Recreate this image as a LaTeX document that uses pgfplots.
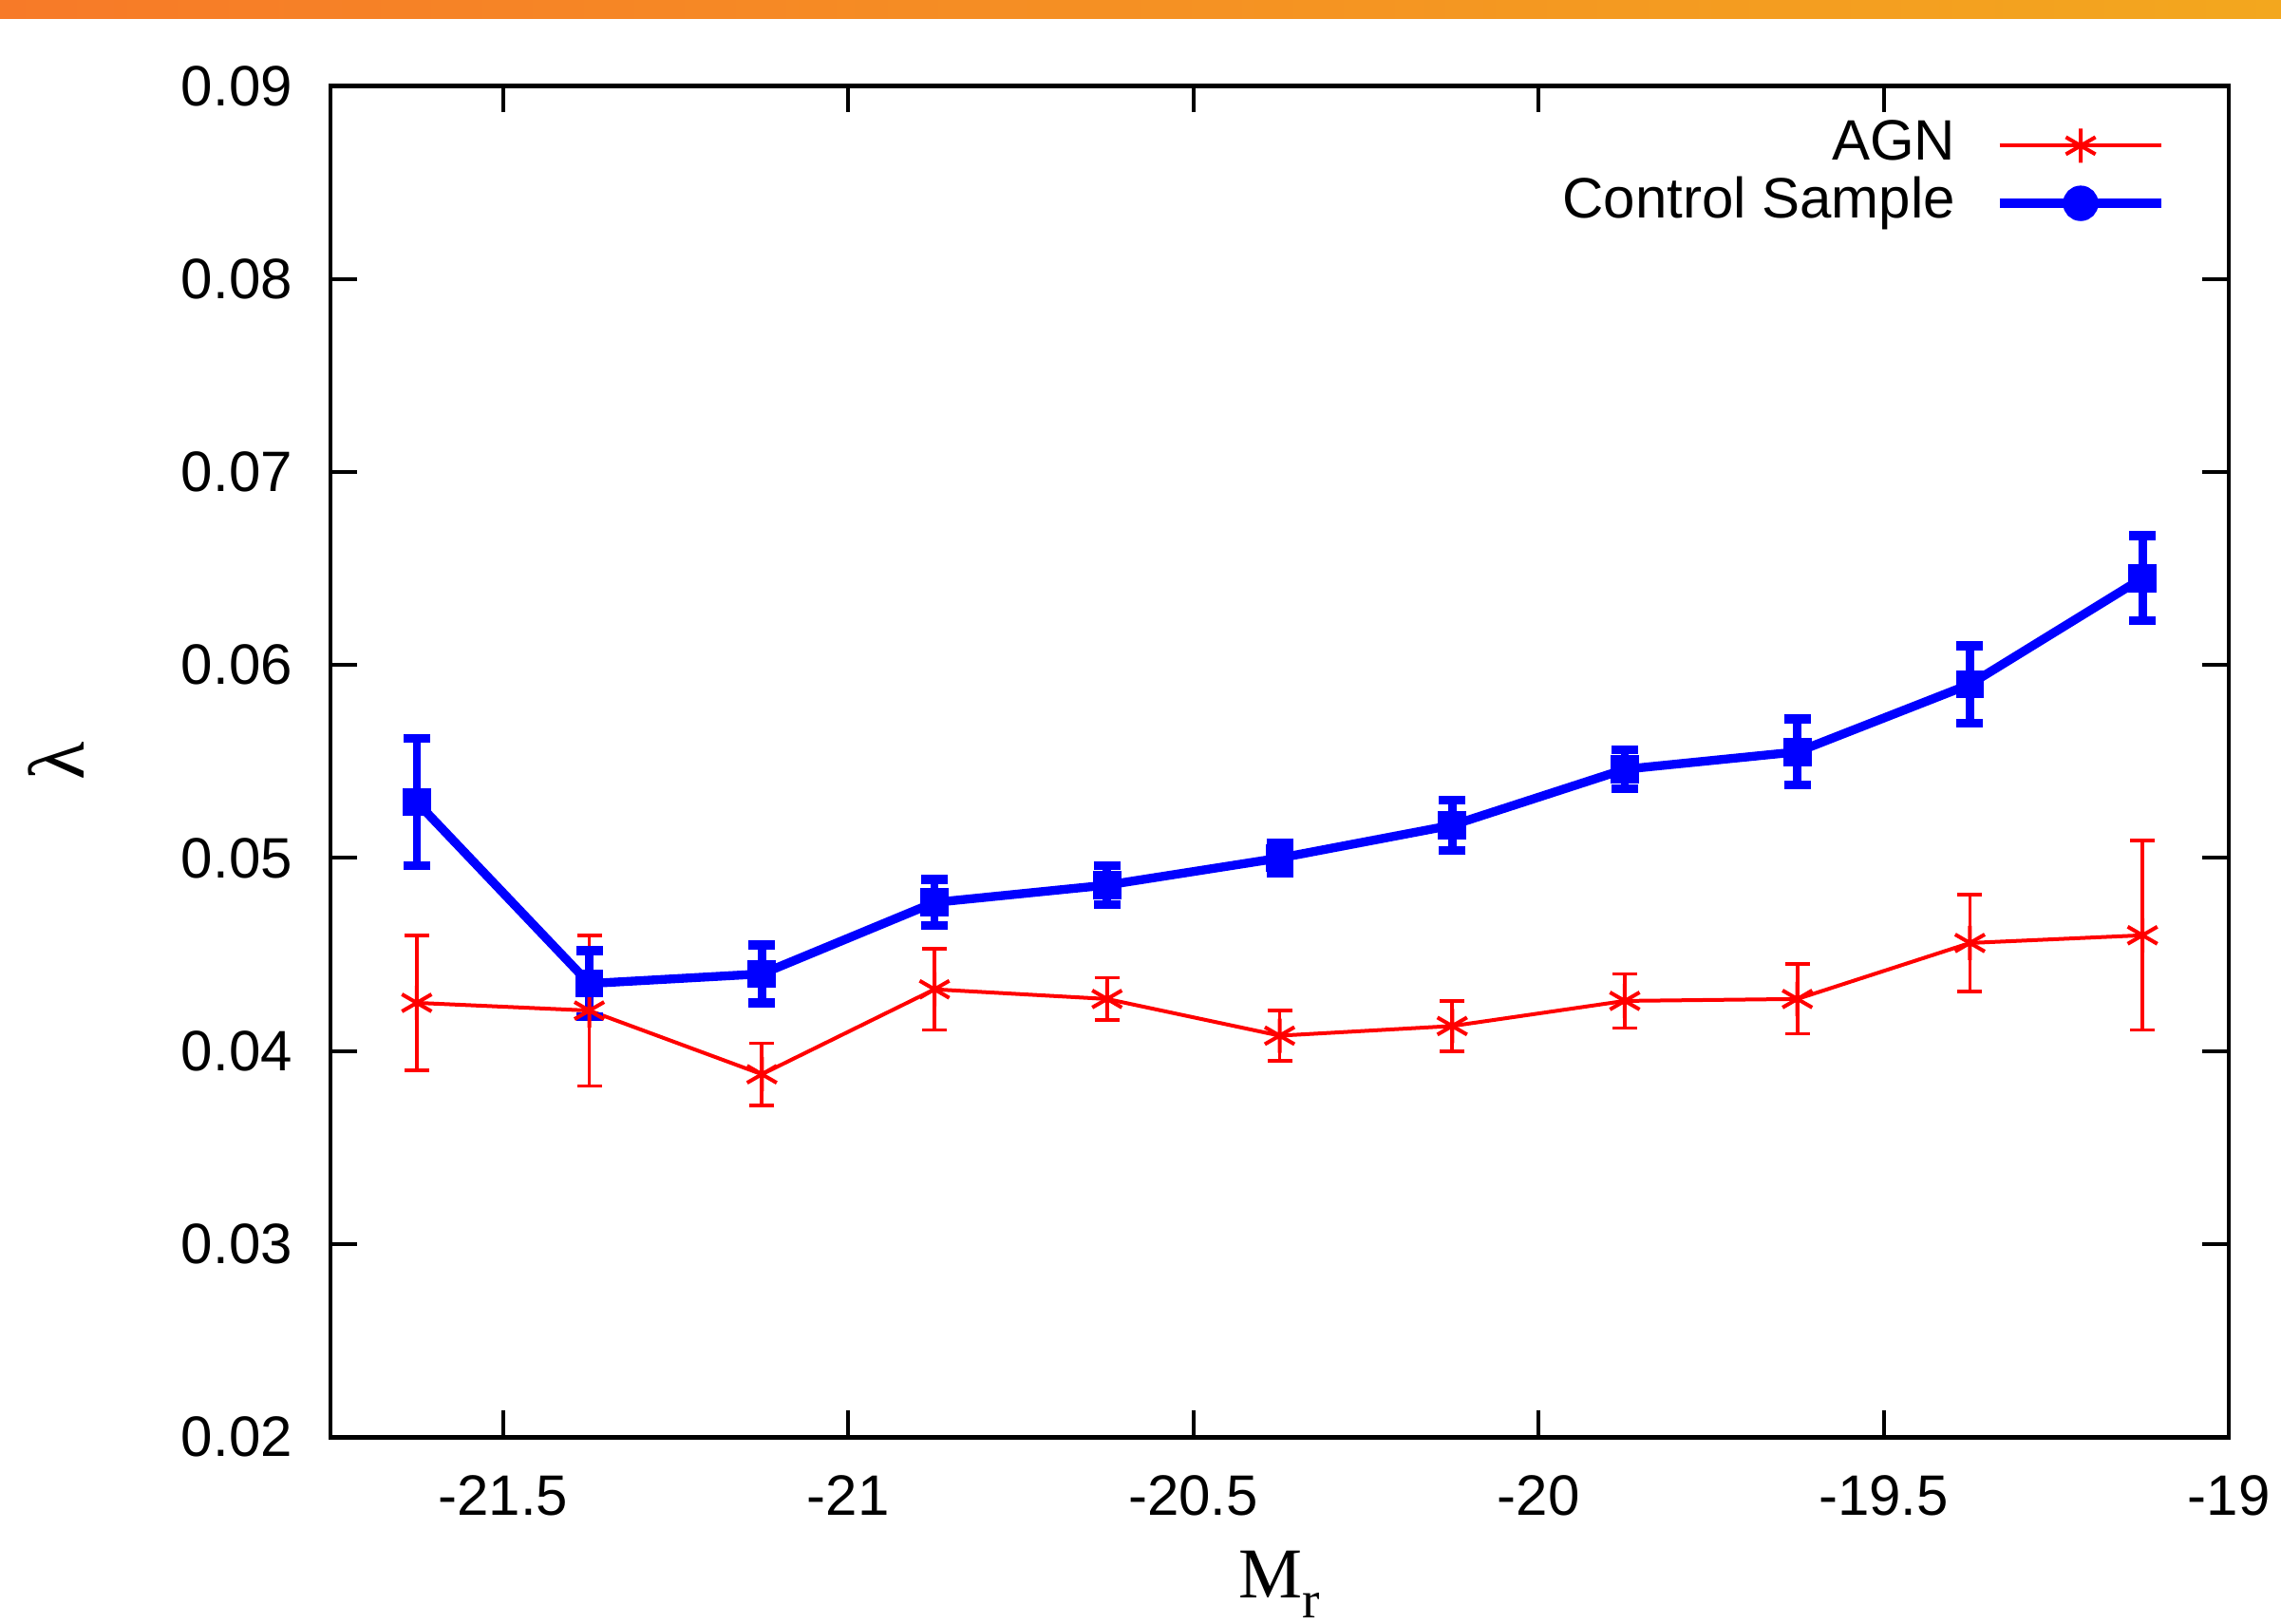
\documentclass[border=0pt]{standalone}
\usepackage{pgfplots}
\usepackage{pgfplotstable}
\pgfplotsset{compat=1.18}
\usepackage{fontspec}
\setmainfont{Liberation Sans}
\newfontfamily\seriffont{Liberation Serif}
\definecolor{bandL}{RGB}{247,122,40}
\definecolor{bandR}{RGB}{243,167,30}

\pgfplotstableread{
x        y       e
-21.625  0.0425  0.0035
-21.375  0.0421  0.0039
-21.125  0.0388  0.0016
-20.875  0.0432  0.0021
-20.625  0.0427  0.0011
-20.375  0.0408  0.0013
-20.125  0.0413  0.0013
-19.875  0.0426  0.0014
-19.625  0.0427  0.0018
-19.375  0.0456  0.0025
-19.125  0.0460  0.0049
}\agn

\pgfplotstableread{
x        y       e
-21.625  0.0529  0.0033
-21.375  0.0435  0.0017
-21.125  0.0440  0.0015
-20.875  0.0477  0.0012
-20.625  0.0486  0.0010
-20.375  0.0500  0.0008
-20.125  0.0517  0.0013
-19.875  0.0546  0.0010
-19.625  0.0555  0.0017
-19.375  0.0590  0.0020
-19.125  0.0645  0.0022
}\control

\begin{document}
\begin{tikzpicture}
\useasboundingbox (-52.2pt,-29.4pt) rectangle (308.1pt,227.0pt);
\shade[left color=bandL,right color=bandR] (-52.2pt,224.0pt) rectangle (308.1pt,227.0pt);
\begin{axis}[
  at={(0,0)}, anchor=south west,
  scale only axis, width=299.85pt, height=213.45pt,
  xmin=-21.75, xmax=-19, ymin=0.02, ymax=0.09,
  scaled x ticks=false, scaled y ticks=false,
  xtick={-21.5,-21,-20.5,-20,-19.5,-19},
  xticklabels={-21.5,-21,-20.5,-20,-19.5,-19},
  ytick={0.02,0.03,0.04,0.05,0.06,0.07,0.08,0.09},
  yticklabels={0.02,0.03,0.04,0.05,0.06,0.07,0.08,0.09},
  tick label style={font=\fontsize{9}{11}\selectfont},
  yticklabel style={xshift=-2.5pt},
  xticklabel style={yshift=-2.5pt},
  major tick length=4.2pt,
  tick align=inside,
  tick style={line width=0.6pt, black},
  axis line style={line width=0.7pt},
  xlabel={\seriffont\fontsize{11.3}{12}\selectfont M\raisebox{-3.2pt}{\fontsize{8.3}{9}\selectfont r}},
  xlabel style={at={(axis description cs:0.5,0)}, anchor=base, yshift=-25.35pt},
  ylabel={\seriffont\fontsize{12.5}{13}\selectfont λ},
  ylabel style={at={(axis description cs:-0.1446,0.5003)}, anchor=center},
  legend style={draw=none, fill=none, at={(rel axis cs:0.967,0.977)}, anchor=north east,
    inner sep=0pt, outer sep=0pt, row sep=0pt, column sep=6pt,
    font=\fontsize{9}{11}\selectfont,
    nodes={inner sep=0.3pt, text height=6.5pt, text depth=2pt}},
  legend cell align=right,
  legend plot pos=right,
]
\addplot[red, line width=0.6pt, mark=asterisk, mark size=2.7pt,
  mark options={line width=0.6pt},
  legend image code/.code={
    \draw[red, line width=0.6pt] (0pt,0pt) -- (25.6pt,0pt);
    \draw[red, line width=0.6pt] plot[mark=asterisk, mark size=2.7pt] coordinates {(12.8pt,0pt)};
  },
  error bars/.cd, y dir=both, y explicit,
  error bar style={line width=0.55pt, red},
  error mark options={rotate=90, line width=0.55pt, mark size=1.95pt, red}]
  table[x=x, y=y, y error=e] {\agn};
\addlegendentry{AGN}
\addplot[blue, line width=1.4pt, mark=square*, mark size=2.15pt,
  mark options={line width=0pt},
  legend image code/.code={
    \draw[blue, line width=1.4pt] (0pt,0pt) -- (25.6pt,0pt);
    \fill[blue] (12.8pt,0pt) circle (2.1pt);
  },
  error bars/.cd, y dir=both, y explicit,
  error bar style={line width=1.3pt, blue},
  error mark options={rotate=90, line width=1.4pt, mark size=2.1pt, blue}]
  table[x=x, y=y, y error=e] {\control};
\addlegendentry{Control Sample}
\end{axis}
\end{tikzpicture}
\end{document}
